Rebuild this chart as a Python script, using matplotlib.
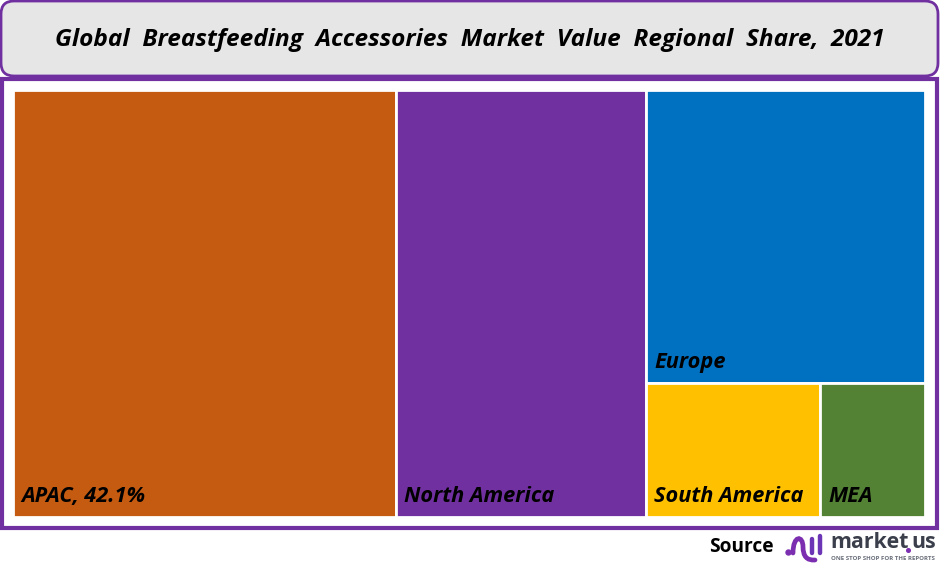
import matplotlib
matplotlib.use('Agg')
import matplotlib.pyplot as plt
from matplotlib.patches import FancyBboxPatch, Rectangle, PathPatch
from matplotlib.path import Path

plt.rcParams['font.family'] = ['Open Sans', 'DejaVu Sans']

regions = ['APAC', 'North America', 'Europe', 'South America', 'MEA']
shares = [42.0, 27.4, 21.0, 6.0, 3.6]
colors = ['#C55A11', '#7030A0', '#0070C0', '#FFC000', '#548235']
labels = ['APAC, 42.1%', 'North America', 'Europe', 'South America', 'MEA']
title = 'Global  Breastfeeding  Accessories  Market  Value  Regional  Share,  2021'

W, H = 944, 566
fig = plt.figure(figsize=(W / 100, H / 100), dpi=100)
purple = '#7030A0'

# page layer in pixel coordinates
bg = fig.add_axes([0, 0, 1, 1])
bg.set_xlim(0, W)
bg.set_ylim(H, 0)
bg.axis('off')

bg.add_patch(FancyBboxPatch((1, 1), 937, 75, boxstyle='round,pad=0,rounding_size=13',
                            facecolor='#E7E6E6', edgecolor=purple, linewidth=2))
bg.add_patch(Rectangle((2, 79), 935, 449, facecolor='white', edgecolor=purple, linewidth=3))
bg.text(469.5, 40, title, ha='center', va='center', fontsize=17.6,
        fontweight='bold', style='italic', color='black')

# treemap axes, 100 x 100 units
ax = fig.add_axes([13 / W, 1 - 517 / H, 912 / W, 427 / H])
ax.set_xlim(0, 100)
ax.set_ylim(0, 100)
ax.axis('off')

total = sum(shares)
w0 = shares[0] / total * 100
w1 = shares[1] / total * 100
w_rest = 100 - w0 - w1
rest = shares[2] + shares[3] + shares[4]
h_eu = shares[2] / rest * 100
w_sa = shares[3] / (shares[3] + shares[4]) * w_rest

boxes = [
    (0, 0, w0, 100),
    (w0, 0, w1, 100),
    (w0 + w1, 100 - h_eu, w_rest, h_eu),
    (w0 + w1, 0, w_sa, 100 - h_eu),
    (w0 + w1 + w_sa, 0, w_rest - w_sa, 100 - h_eu),
]

for box, c, lab in zip(boxes, colors, labels):
    x, y, bw, bh = box
    ax.add_patch(Rectangle((x, y), bw, bh, facecolor=c, edgecolor='white', linewidth=2))
    ax.annotate(lab, (x, y), xytext=(6, 7), textcoords='offset points', fontsize=15.7,
                fontweight='bold', style='italic', color='black', ha='left', va='bottom')

# source and logo
bg.text(741, 546.5, 'Source', ha='center', va='center', fontsize=13.8, fontweight='bold', color='black')

logo = Path([(793, 553), (793, 535), (803, 535), (803, 547), (803, 561), (815, 560)],
            [Path.MOVETO, Path.CURVE4, Path.CURVE4, Path.CURVE4, Path.CURVE3, Path.CURVE3])
bg.add_patch(PathPatch(logo, facecolor='none', edgecolor='#7B2FB0', linewidth=3.4, capstyle='round'))
bg.plot([787.5], [552], marker='o', ms=3.6, color='#7B2FB0')
bg.plot([812, 812], [539, 553], color='#6B35B5', lw=3.2, solid_capstyle='round')
bg.plot([820, 820], [536, 553], color='#6B35B5', lw=3.2, solid_capstyle='round')
bg.text(830, 542.5, 'market', ha='left', va='center', fontsize=15.4, fontweight='bold', color='#3A3F4B')
bg.text(936, 542.5, 'us', ha='right', va='center', fontsize=15.4, fontweight='bold', color='#3A3F4B')
bg.plot([908], [550], marker='o', ms=2.6, color='#7B2FB0')
bg.text(883, 558.5, 'ONE STOP SHOP FOR THE REPORTS', ha='center', va='center', fontsize=4.4,
        fontweight='bold', color='#6A6F7A')

fig.savefig('out.png', dpi=100)
